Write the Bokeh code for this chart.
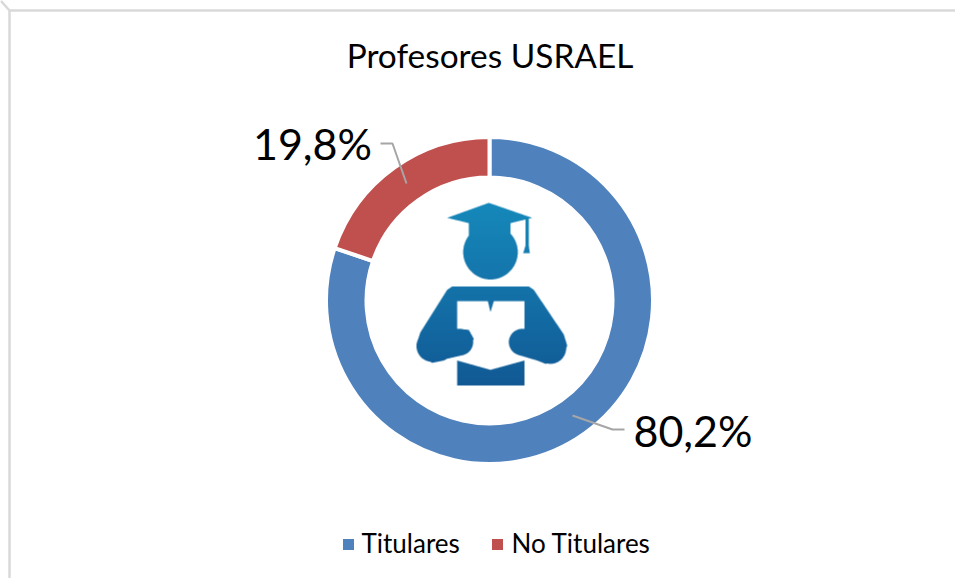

import numpy as np
from bokeh.plotting import figure
from bokeh.embed import file_html
from bokeh.resources import INLINE
from bokeh.core.properties import value

title = "Profesores USRAEL"
categories = ["Titulares", "No Titulares"]
shares = [80.2, 19.8]
labels = ["80,2%", "19,8%"]
colors = ["#4f81bd", "#c0504d"]

W, H = 955, 578
p = figure(width=W, height=H, output_backend="svg", toolbar_location=None,
           x_range=(0, W), y_range=(H, 0), min_border=0,
           x_axis_type=None, y_axis_type=None)
p.outline_line_color = None
p.grid.visible = False

# chart frame (top and left edges only are visible in the crop)
p.line([9, 9, None, 9, 955], [578, 10, None, 10, 10], line_color="#d9d9d9", line_width=2.5)

# ring, clockwise from the top
cx, cy, r_out, r_in = 489, 300, 163.5, 123
frac = np.cumsum([0] + shares) / sum(shares)
for i, c in enumerate(colors):
    p.annular_wedge(x=cx, y=cy, inner_radius=r_in, outer_radius=r_out,
                    start_angle=np.pi / 2 - 2 * np.pi * frac[i],
                    end_angle=np.pi / 2 - 2 * np.pi * frac[i + 1],
                    direction="clock", fill_color=c, line_color="white", line_width=4)

# leader lines
p.line([380, 392, 406], [143, 143, 183], line_color="#a6a6a6", line_width=2)
p.line([572, 612, 624], [415, 429, 429], line_color="#a6a6a6", line_width=2)

# data labels
p.text(x=[692.5, 312], y=[430, 143], text=labels, text_font=value("Lato"), text_font_size="43px",
       text_align="center", text_baseline="middle", text_color="black")

# title
p.text(x=[489.5], y=[54], text=[title], text_font=value("Lato"), text_font_size="33.4px",
       text_align="center", text_baseline="middle", text_color="black")

# legend
p.scatter(x=[348, 497], y=[544, 544], size=11, marker="square", fill_color=colors, line_color=None)
p.text(x=[361, 511], y=[542, 542], text=categories, text_font=value("Lato"), text_font_size="26px",
       text_align="left", text_baseline="middle", text_color="black")

# icon: silhouette outlines (zoom-crop units)
def Z(pts):
    a = np.array(pts, float)
    return a / 3 + np.array([400, 180])

body = Z([(155,318),(385,318),(400,328),(490,462),(500,495),(490,525),(465,545),(435,550),(410,540),
          (345,508),(328,485),(335,462),(372,445),(372,362),(280,362),(270,395),(262,362),(170,362),
          (170,445),(205,448),(220,475),(210,497),(130,540),(95,547),(65,530),(48,490),(60,455),(140,328)])
book = Z([(170,540),(270,568),(372,540),(372,615),(170,615)])
cap = Z([(265,67),(395,112),(330,128),(330,175),(205,175),(205,128),(140,112)])
cord = Z([(375,112),(385,112),(385,195),(388,218),(368,218),(375,195)])
polys = [body, book, cap, cord]
# hands: tapered capsules (x0, y0, r0, x1, y1, r1), zoom-crop units
hands = [(95, 497, 47, 178, 485, 40), (365, 485, 40, 450, 503, 47)]

def inside(poly, X, Y):
    m = np.zeros(X.shape, bool)
    x, y = poly[:, 0], poly[:, 1]
    for i in range(len(x)):
        j = i - 1
        c = (y[i] > Y) != (y[j] > Y)
        m ^= c & (X < (x[j] - x[i]) * (Y - y[i]) / (y[j] - y[i] + 1e-12) + x[i])
    return m

ix0, iy0, iw, ih = 410, 198, 160, 192
ss = 3
gx, gy = np.meshgrid(ix0 + (np.arange(iw * ss) + .5) / ss, iy0 + (np.arange(ih * ss) + .5) / ss)
mask = ((gx - 490) ** 2 + (gy - 251.7) ** 2) < 27.3 ** 2
for poly in polys:
    mask |= inside(poly, gx, gy)
for x0, y0, r0, x1, y1, r1 in hands:
    for s in np.linspace(0, 1, 40):
        hx, hy = 400 + (x0 + (x1 - x0) * s) / 3, 180 + (y0 + (y1 - y0) * s) / 3
        hr = (r0 + (r1 - r0) * s) / 3
        mask |= ((gx - hx) ** 2 + (gy - hy) ** 2) < hr ** 2
alpha = mask.reshape(ih, ss, iw, ss).mean(axis=(1, 3))
t = ((np.arange(ih) + .5) / ih)[:, None]
top, bot = np.array([0x16, 0x8a, 0xbc]), np.array([0x11, 0x58, 0x94])
rgba = np.zeros((ih, iw, 4), dtype=np.uint8)
for k in range(3):
    rgba[..., k] = (top[k] + (bot[k] - top[k]) * t).astype(np.uint8)
rgba[..., 3] = (alpha * 255).astype(np.uint8)
img = rgba.view(dtype=np.uint32).reshape(ih, iw)
p.image_rgba(image=[img], x=ix0, y=iy0, dw=iw, dh=ih)

open("out.html", "w").write(file_html(p, INLINE))
